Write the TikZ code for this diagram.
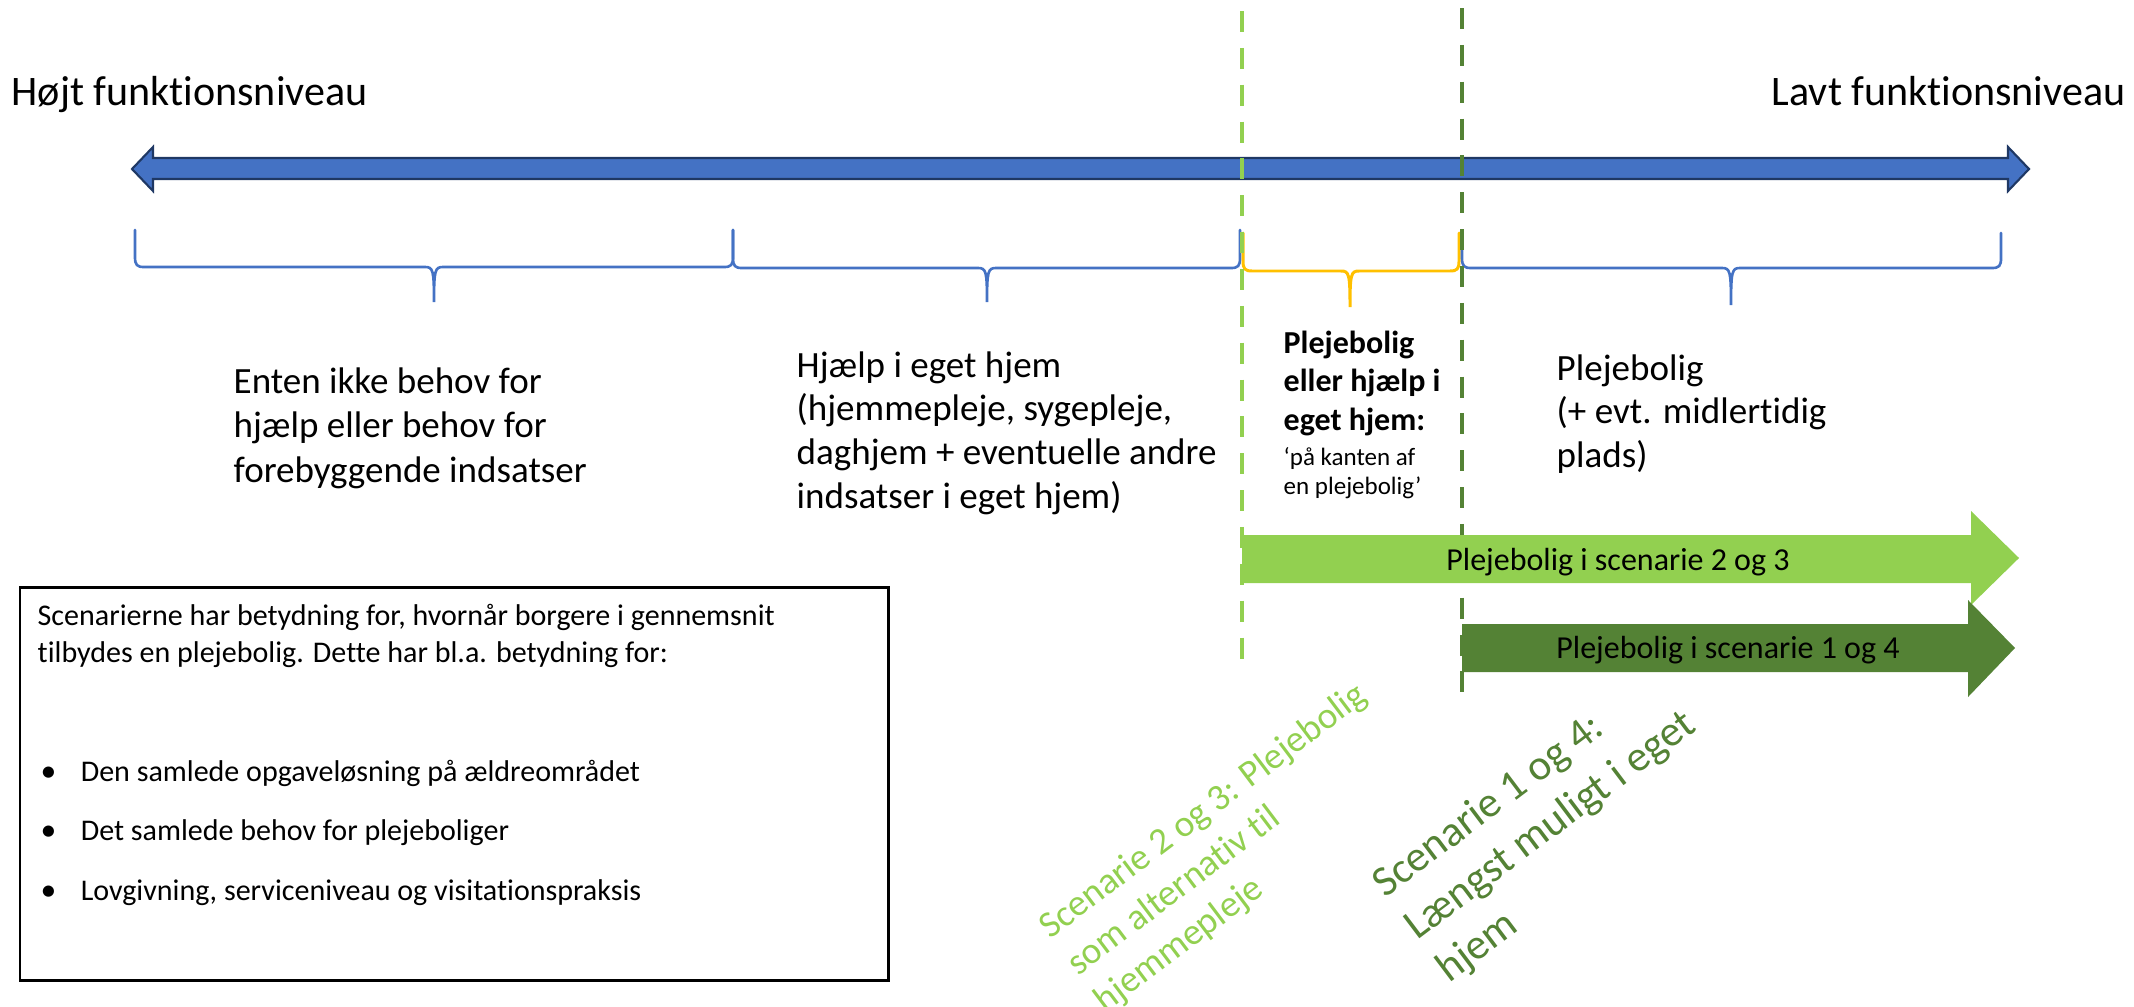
\documentclass[tikz,border=0pt]{standalone}
\usepackage{fontspec}
\setmainfont{Carlito}[Ligatures={NoCommon,NoContextual}]
\definecolor{accblue}{HTML}{4472C4}
\definecolor{navyline}{HTML}{1F3864}
\definecolor{goldbrace}{HTML}{FFC000}
\definecolor{lightgrn}{HTML}{92D050}
\definecolor{darkgrn}{HTML}{548235}
\newcommand\mybrace[7]{%
  \draw[#1] (#2,#5) -- (#2,#6-10) .. controls (#2,#6-2) and (#2+2,#6) .. (#2+9,#6)
    -- (#3-9,#6) .. controls (#3-1,#6) and (#3,#6+3) .. (#3,#7)
    .. controls (#3,#6+3) and (#3+1,#6) .. (#3+9,#6)
    -- (#4-9,#6) .. controls (#4-2,#6) and (#4,#6-2) .. (#4,#6-10) -- (#4,#5);}
\tikzset{
  txt/.style={anchor=base west, inner sep=0pt},
  bracestyle/.style={line width=0.75pt, line cap=round},
  vdash/.style={line width=1.15pt, dash pattern=on 5.98pt off 4.5pt},
}
\newcommand\lines[1]{\begin{tabular}[t]{@{}l@{}}#1\end{tabular}}
\begin{document}
\begin{tikzpicture}[x=0.01cm,y=-0.01cm]
\useasboundingbox (0,0) rectangle (2134,1006);
% main double arrow
\draw[fill=accblue, draw=navyline, line width=0.6pt, line join=miter]
  (132,169) -- (153,147) -- (153,158) -- (2008,158) -- (2008,147) -- (2029,169)
  -- (2008,191) -- (2008,179) -- (153,179) -- (153,191) -- cycle;
\node[txt, font=\fontsize{11.95pt}{14pt}\selectfont] (hojt) at (11,105) {Højt funktionsniveau};
\node[anchor=base east, inner sep=0pt, font=\fontsize{11.95pt}{14pt}\selectfont] (lavt) at (2126,105) {Lavt funktionsniveau};
% braces
\mybrace{bracestyle, accblue}{135}{434}{733}{230}{267}{302}
\mybrace{bracestyle, accblue}{733}{987}{1240}{230}{268}{302}
\mybrace{bracestyle, goldbrace, line width=0.85pt}{1243}{1350}{1459}{233}{271}{307}
\mybrace{bracestyle, accblue}{1462}{1731}{2001}{233}{268}{305}
% dashed lines
\coordinate (lgtop) at (1242,11);
\coordinate (lgbot) at (1242,659);
\coordinate (dgtop) at (1462,8);
\coordinate (dgbot) at (1462,693);
\draw[vdash, lightgrn] (lgtop) -- (lgbot);
\draw[vdash, darkgrn] (dgtop) -- (dgbot);
% texts under braces
\node[txt, font=\fontsize{10.53pt}{12.66pt}\selectfont] (enten) at (233,393)
  {\lines{Enten ikke behov for\\hjælp eller behov for\\forebyggende indsatser}};
\node[txt, font=\fontsize{10.53pt}{12.45pt}\selectfont] (hjaelp) at (796,377)
  {\lines{Hjælp i eget hjem\\(hjemmepleje, sygepleje,\\daghjem + eventuelle andre\\indsatser i eget hjem)}};
\node[txt, font=\fontsize{9.1pt}{10.95pt}\bfseries] (kant) at (1283,353)
  {\lines{Plejebolig\\eller hjælp i\\eget hjem:}};
\node[txt, font=\fontsize{7.11pt}{8.25pt}\selectfont] (kantsub) at (1283,465)
  {\lines{‘på kanten af\\en plejebolig’}};
\node[txt, font=\fontsize{10.53pt}{12.38pt}\selectfont] (pleje) at (1556,380)
  {\lines{Plejebolig\\(+ evt. midlertidig\\plads)}};
% green arrows
\fill[lightgrn] (1242,535) -- (1971,535) -- (1971,511) -- (2019,558) -- (1971,605) -- (1971,583) -- (1242,583) -- cycle;
\fill[darkgrn] (1462,624) -- (1968,624) -- (1968,600) -- (2015,648) -- (1968,697) -- (1968,672) -- (1462,672) -- cycle;
\node[anchor=base, inner sep=0pt, font=\fontsize{9.1pt}{11pt}\selectfont] (arr23) at (1618,570) {Plejebolig i scenarie 2 og 3};
\node[anchor=base, inner sep=0pt, font=\fontsize{9.1pt}{11pt}\selectfont] (arr14) at (1728,658) {Plejebolig i scenarie 1 og 4};
% rotated scenario texts
\node[txt, rotate=37, text=lightgrn, font=\fontsize{10.6pt}{13.09pt}\selectfont] (sc23) at (1050,940)
  {\lines{Scenarie 2 og 3: Plejebolig\\som alternativ til\\hjemmepleje}};
\node[txt, rotate=37, text=darkgrn, font=\fontsize{12.23pt}{15.08pt}\selectfont] (sc14) at (1385,899)
  {\lines{Scenarie 1 og 4:\\Længst muligt i eget\\hjem}};
% info box
\draw[line width=0.85pt] (20,587) rectangle (888,980);
\node[txt, font=\fontsize{8.54pt}{10.53pt}\selectfont] (intro) at (37,625)
  {\lines{Scenarierne har betydning for, hvornår borgere i gennemsnit\\tilbydes en plejebolig. Dette har bl.a. betydning for:}};
\node[txt, font=\fontsize{8.54pt}{16.93pt}\selectfont] (bullets) at (40,781)
  {\lines{\makebox[11.4pt][l]{\small•}Den samlede opgaveløsning på ældreområdet\\
          \makebox[11.4pt][l]{\small•}Det samlede behov for plejeboliger\\
          \makebox[11.4pt][l]{\small•}Lovgivning, serviceniveau og visitationspraksis}};
\end{tikzpicture}
\end{document}
